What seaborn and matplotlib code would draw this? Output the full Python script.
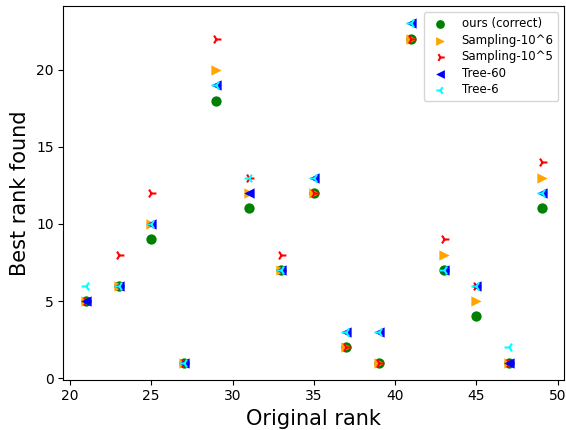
import pandas as pd
import matplotlib.pyplot as plt
import seaborn as sns

# original rank on the x axis
original_rank = [21, 23, 25, 27, 29, 31, 33, 35, 37, 39, 41, 43, 45, 47, 49]

# best rank found per method
ours = [5, 6, 9, 1, 18, 11, 7, 12, 2, 1, 22, 7, 4, 1, 11]
sampling_1e6 = [5, 6, 10, 1, 20, 12, 7, 12, 2, 1, 22, 8, 5, 1, 13]
sampling_1e5 = [5, 8, 12, 1, 22, 13, 8, 12, 2, 1, 22, 9, 6, 1, 14]
tree_60 = [5, 6, 10, 1, 19, 12, 7, 13, 3, 3, 23, 7, 6, 1, 12]
tree_6 = [6, 6, 10, 1, 19, 13, 7, 13, 3, 3, 23, 7, 6, 2, 12]

series = [
    ("ours (correct)", ours, "green", "o"),
    ("Sampling-10^6", sampling_1e6, "orange", ">"),
    ("Sampling-10^5", sampling_1e5, "red", "4"),
    ("Tree-60", tree_60, "blue", "<"),
    ("Tree-6", tree_6, "cyan", "3"),
]

plt.style.use("default")
fig, ax = plt.subplots(figsize=(5.66, 4.30), dpi=100)
fig.subplots_adjust(left=0.112, right=0.997, top=0.985, bottom=0.117)

for name, vals, col, mk in series:
    df = pd.DataFrame({"x": original_rank, "y": vals})
    if mk in ("3", "4"):
        sns.scatterplot(data=df, x="x", y="y", marker=mk, color=col, ec=col,
                        s=50, linewidth=1.5, label=name, ax=ax)
    else:
        sns.scatterplot(data=df, x="x", y="y", marker=mk, color=col,
                        s=55, linewidth=0, label=name, ax=ax)

ax.set_xlabel("Original rank", fontsize=15)
ax.set_ylabel("Best rank found", fontsize=15)
ax.set_xticks([20, 25, 30, 35, 40, 45, 50])
ax.set_yticks([0, 5, 10, 15, 20])
ax.legend(loc="upper right", fontsize=8.5, markerscale=0.85, labelspacing=0.3)

fig.savefig("out.png", dpi=100)
